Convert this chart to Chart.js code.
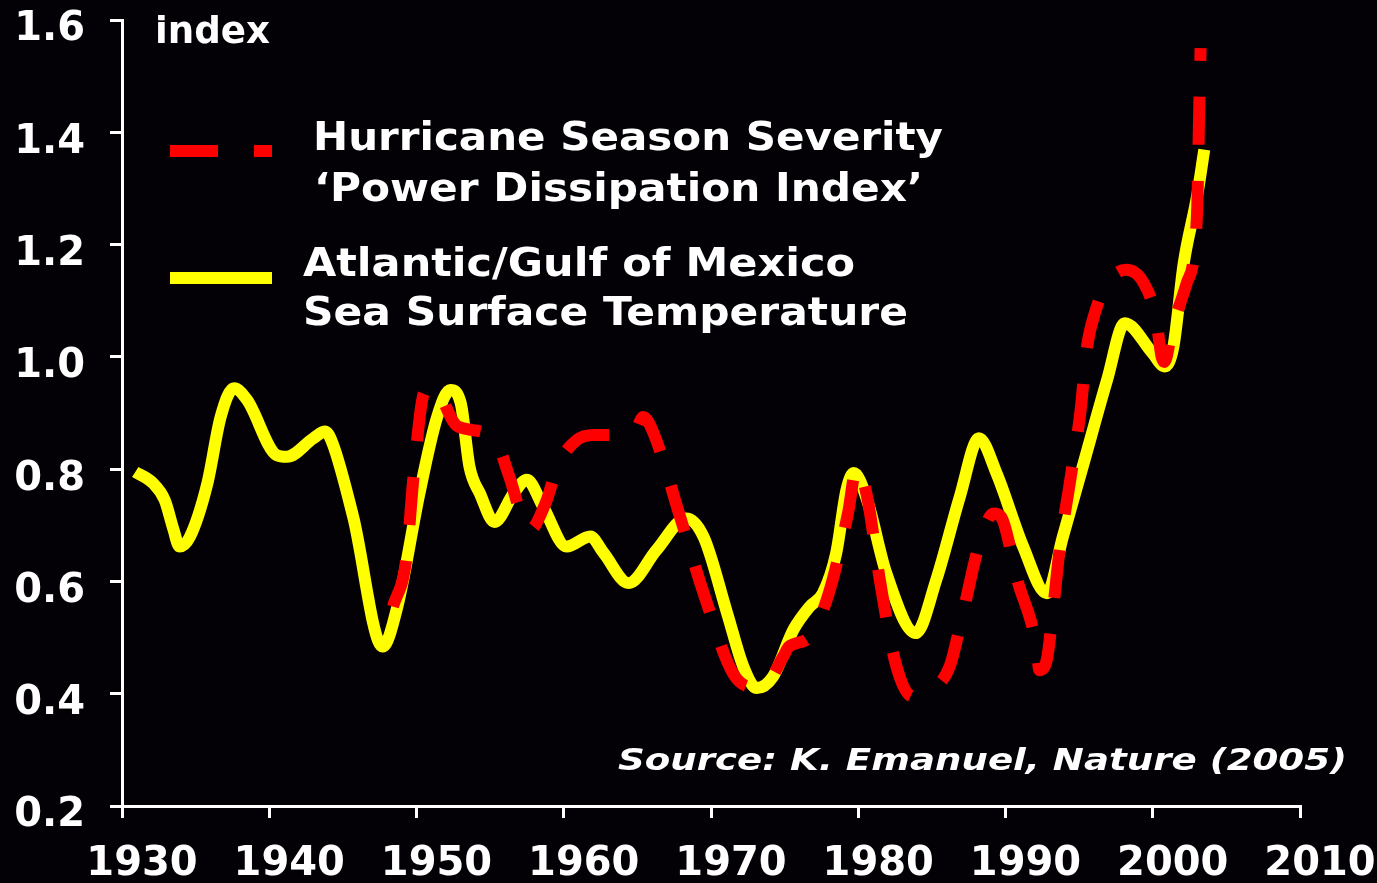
<!DOCTYPE html>
<html>
<head>
<meta charset="utf-8">
<title>Hurricane Season Severity vs Sea Surface Temperature</title>
<script src="https://cdn.jsdelivr.net/npm/chart.js@4.4.1/dist/chart.umd.min.js"></script>
<style>
    html, body { margin: 0; padding: 0; background: #030006; }
    #wrap { position: relative; width: 1377px; height: 883px; overflow: hidden; }
    #wrap canvas { position: absolute; left: 0; top: 0; }
    .txt {
        position: absolute; color: #fff; white-space: nowrap; line-height: 0;
        font-family: 'DejaVu Sans', Verdana, sans-serif; font-weight: bold;
        transform-origin: 0 0;
    }
    .swatch { position: absolute; height: 12px; }
</style>
</head>
<body>
<div id="wrap">
    <canvas id="indexChart" width="1377" height="883"></canvas>

    <div class="txt" data-w="115" data-base="43" style="left:155px; font-size:38px;">index</div>

    <div class="swatch" style="left:170px; top:145px; width:102px;
        background: repeating-linear-gradient(to right, #ff0000 0 48px, transparent 48px 84px);"></div>
    <div class="txt" data-w="630" data-base="150" style="left:313px; font-size:39px;">Hurricane Season Severity</div>
    <div class="txt" data-w="609" data-base="201" style="left:314px; font-size:39px;">‘Power Dissipation Index’</div>

    <div class="swatch" style="left:170px; top:272px; width:102px; background:#ffff00;"></div>
    <div class="txt" data-w="552" data-base="276" style="left:303px; font-size:39px;">Atlantic/Gulf of Mexico</div>
    <div class="txt" data-w="605" data-base="325" style="left:303px; font-size:39px;">Sea Surface Temperature</div>

    <div class="txt" data-w="729" data-base="770" style="left:618px; font-size:30px; font-style:italic;">Source: K. Emanuel, Nature (2005)</div>
</div>

<script>
// datos leídos del gráfico
// temperatura superficial del mar (línea amarilla)
const sstYears = [1930.9, 1932.1, 1932.9, 1933.5, 1933.9, 1934.6, 1935.8, 1936.7, 1937.6, 1938.5,
    1940.5, 1941.2, 1943.0, 1943.8, 1944.3, 1945.7, 1947.7, 1948.7, 1950.2, 1951.4,
    1952.3, 1953.0, 1953.6, 1954.3, 1955.3, 1956.6, 1957.5, 1958.6, 1960.2, 1961.8,
    1962.7, 1964.4, 1966.3, 1968.3, 1969.5, 1971.1, 1972.2, 1973.1, 1974.2, 1975.6,
    1976.7, 1977.6, 1978.5, 1979.2, 1979.7, 1980.6, 1981.9, 1983.9, 1985.3, 1986.9,
    1988.2, 1989.4, 1991.2, 1992.8, 1993.9, 1995.3, 1996.9, 1998.1, 2000.0, 2000.8,
    2001.4, 2002.1, 2003.0, 2003.5];
const sstValues = [0.795, 0.775, 0.745, 0.692, 0.662, 0.679, 0.775, 0.893, 0.944, 0.923,
    0.825, 0.822, 0.855, 0.867, 0.846, 0.715, 0.484, 0.555, 0.757, 0.893,
    0.941, 0.918, 0.804, 0.757, 0.706, 0.757, 0.781, 0.733, 0.662, 0.680,
    0.651, 0.597, 0.656, 0.712, 0.679, 0.543, 0.448, 0.410, 0.430, 0.514,
    0.555, 0.579, 0.650, 0.763, 0.793, 0.745, 0.615, 0.508, 0.603, 0.751,
    0.855, 0.792, 0.662, 0.579, 0.680, 0.810, 0.959, 1.060, 1.006, 0.983,
    1.018, 1.166, 1.285, 1.369];

// índice de disipación de potencia (línea roja discontinua)
const pdiYears = [1948.4, 1949.3, 1949.8, 1950.5, 1951.1, 1952.8, 1955.2, 1956.3, 1957.3, 1957.7,
    1958.8, 1959.6, 1960.9, 1962.0, 1964.7, 1965.4, 1966.1, 1967.9, 1969.5, 1971.5,
    1972.9, 1973.8, 1974.9, 1975.3, 1976.7, 1978.0, 1979.3, 1979.9, 1980.6, 1981.5,
    1982.6, 1983.7, 1984.4, 1986.2, 1987.1, 1988.3, 1989.2, 1989.7, 1990.8, 1992.1,
    1992.3, 1992.8, 1993.2, 1993.7, 1994.4, 1995.1, 1995.5, 1996.2, 1996.9, 1998.2,
    1999.4, 2000.2, 2000.6, 2000.8, 2001.3, 2002.3, 2003.0, 2003.15, 2003.25];
const pdiValues = [0.555, 0.638, 0.787, 0.935, 0.947, 0.876, 0.858, 0.787, 0.704, 0.692,
    0.742, 0.807, 0.852, 0.861, 0.861, 0.893, 0.864, 0.715, 0.579, 0.436,
    0.412, 0.418, 0.466, 0.484, 0.501, 0.579, 0.721, 0.804, 0.751, 0.597,
    0.448, 0.395, 0.401, 0.448, 0.543, 0.674, 0.721, 0.715, 0.603, 0.484,
    0.442, 0.460, 0.543, 0.662, 0.781, 0.905, 1.012, 1.089, 1.131, 1.155,
    1.131, 1.072, 1.000, 0.991, 1.048, 1.131, 1.250, 1.434, 1.550];

// ejes
const xMin = 1930, xMax = 2010, xStep = 10;
const yMin = 0.2, yMax = 1.6, yStep = 0.2;

const tickFont = { family: "'DejaVu Sans', Verdana, sans-serif", size: 40, weight: 'bold' };

// juntamos años y valores en puntos {x, y}
function toPoints(years, values) {
    return years.map((year, i) => ({ x: year, y: values[i] }));
}

function getIndexChartConfig() {
    return {
        type: 'line',
        data: {
            datasets: [{
                label: 'Hurricane Season Severity ‘Power Dissipation Index’',
                data: toPoints(pdiYears, pdiValues),
                borderColor: '#ff0000',
                borderWidth: 12,
                borderDash: [48, 36],
                borderCapStyle: 'butt',
                cubicInterpolationMode: 'monotone',
                pointRadius: 0,
                fill: false
            }, {
                label: 'Atlantic/Gulf of Mexico Sea Surface Temperature',
                data: toPoints(sstYears, sstValues),
                borderColor: '#ffff00',
                borderWidth: 12,
                borderCapStyle: 'butt',
                borderJoinStyle: 'round',
                cubicInterpolationMode: 'monotone',
                pointRadius: 0,
                fill: false
            }]
        },
        options: {
            responsive: false,
            animation: false,
            layout: { padding: { top: 20, right: 77, left: 0, bottom: 0 } },
            plugins: {
                legend: { display: false },
                tooltip: { enabled: false }
            },
            scales: {
                x: {
                    type: 'linear',
                    min: xMin,
                    max: xMax,
                    // alto fijo del eje x y sin relleno extra a los lados
                    afterFit: scale => {
                        scale.height = 77;
                        scale.paddingLeft = 0;
                        scale.paddingRight = 0;
                    },
                    border: { color: '#ffffff', width: 3 },
                    grid: { drawOnChartArea: false, drawTicks: true, tickLength: 12, color: '#ffffff', lineWidth: 3 },
                    ticks: {
                        stepSize: xStep,
                        color: '#ffffff',
                        font: tickFont,
                        padding: 23,
                        labelOffset: 20,
                        maxRotation: 0,
                        autoSkip: false,
                        callback: v => String(v)
                    }
                },
                y: {
                    min: yMin,
                    max: yMax,
                    // ancho fijo del eje y y sin relleno extra arriba/abajo
                    afterFit: scale => {
                        scale.width = 122;
                        scale.paddingTop = 0;
                        scale.paddingBottom = 0;
                    },
                    border: { color: '#ffffff', width: 3 },
                    grid: { drawOnChartArea: false, drawTicks: true, tickLength: 12, color: '#ffffff', lineWidth: 3 },
                    ticks: {
                        stepSize: yStep,
                        color: '#ffffff',
                        font: tickFont,
                        padding: 25,
                        labelOffset: 10,
                        callback: v => Number(v).toFixed(1)
                    }
                }
            }
        }
    };
}

// ajustamos los textos al ancho y a la línea base del original
function placeTexts() {
    document.querySelectorAll('.txt').forEach(el => {
        const size = parseFloat(el.style.fontSize);
        el.style.top = (parseFloat(el.dataset.base) - 0.346 * size) + 'px';
        const real = el.getBoundingClientRect().width;
        el.style.transform = 'scaleX(' + (parseFloat(el.dataset.w) / real) + ')';
    });
}

document.addEventListener('DOMContentLoaded', () => {
    placeTexts();
    window.indexChart = new Chart(document.getElementById('indexChart'), getIndexChartConfig());
});
</script>
</body>
</html>
